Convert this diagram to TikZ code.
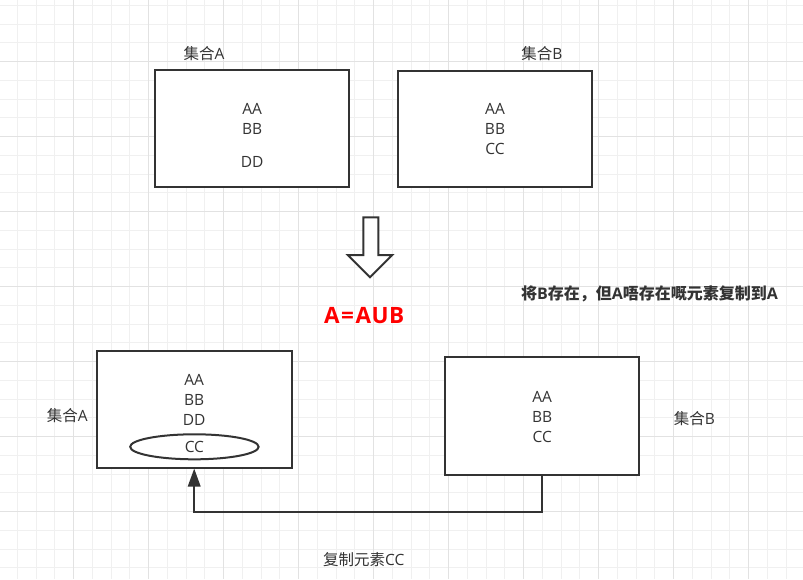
\documentclass[tikz,border=0pt]{standalone}
\usepackage{fontspec}
\setmainfont{Open Sans}
\newfontfamily\cjk{Noto Sans CJK SC}
\usetikzlibrary{arrows.meta,shapes.geometric}
\definecolor{ink}{HTML}{333333}
\definecolor{gridminor}{HTML}{F0F0F0}
\definecolor{gridmajor}{HTML}{E2E2E2}
\definecolor{redtxt}{HTML}{FF0000}
\tikzset{
  setbox/.style={draw=ink, line width=2pt, fill=white, minimum width=#1, inner sep=0pt},
  txt/.style={inner sep=0pt, text=ink, font=\fontsize{15.5pt}{19pt}\selectfont},
  boldtxt/.style={inner sep=0pt, text=ink, font=\fontsize{16pt}{19pt}\selectfont\bfseries},
  conn/.style={draw=ink, line width=2pt, -{Triangle[width=12.5pt,length=18pt]}},
  blockarrow/.style={draw=ink, line width=2pt, fill=white, line join=miter},
  gmin/.style={draw=gridminor, line width=1pt},
  gmaj/.style={draw=gridmajor, line width=1pt}
}
\begin{document}
\begin{tikzpicture}[x=1pt, y=-1pt]
\useasboundingbox (0,0) rectangle (803,579);
\fill[white] (0,0) rectangle (803,579);
% grid
\foreach \k in {1,...,42} \draw[gmin] ({-1.5+18.75*\k},0) -- ({-1.5+18.75*\k},579);
\foreach \k in {1,...,31} \draw[gmin] (0,{-13.3+18.75*\k}) -- (803,{-13.3+18.75*\k});
\foreach \k in {1,...,10} \draw[gmaj] ({-1.5+75*\k},0) -- ({-1.5+75*\k},579);
\foreach \k in {1,...,7} \draw[gmaj] (0,{-13.3+75*\k}) -- (803,{-13.3+75*\k});

% top sets
\node[setbox=194pt, minimum height=116.5pt] (tA) at (252.2,128.4) {};
\node[txt] (tAl) at (204,54) {{\cjk 集合}A};
\node[txt] (tAa) at (252.2,109) {AA};
\node[txt] (tAb) at (252.2,129) {BB};
\node[txt] (tAd) at (252.2,162) {DD};

\node[setbox=194pt, minimum height=116pt] (tB) at (495,128.7) {};
\node[txt] (tBl) at (542,54) {{\cjk 集合}B};
\node[txt] (tBa) at (495,109) {AA};
\node[txt] (tBb) at (495,129) {BB};
\node[txt] (tBc) at (495,149) {CC};

% block arrow
\draw[blockarrow] (363.3,217.3) -- (378.3,217.3) -- (378.3,255) -- (392.3,255) -- (370,277.3)
  -- (347.7,255) -- (363.3,255) -- cycle;

\node[inner sep=0pt, text=redtxt, font=\fontsize{22.5pt}{26pt}\selectfont\bfseries] (eq) at (364.2,315.5) {A\kern1.5pt=\kern1.5pt A\kern0.5pt U\kern0.5pt B};
\node[boldtxt] (note) at (649.5,294.3) {{\cjk 将}B{\cjk 存在，但}A{\cjk 唔存在嘅元素复制到}A};

% bottom sets
\node[setbox=195pt, minimum height=116.5pt] (bA) at (194.2,409.3) {};
\node[txt] (bAl) at (67.2,416) {{\cjk 集合}A};
\node[txt] (bAa) at (194.2,380) {AA};
\node[txt] (bAb) at (194.2,400) {BB};
\node[txt] (bAd) at (194.2,419.5) {DD};
\node[ellipse, draw=ink, line width=2pt, minimum width=128.5pt, minimum height=25pt, inner sep=0pt] (ell) at (194.4,446.8) {};
\node[txt] (bAc) at (194.4,447.3) {CC};

\node[setbox=194pt, minimum height=117.5pt] (bB) at (542.2,416.2) {};
\node[txt] (bBl) at (694.5,419) {{\cjk 集合}B};
\node[txt] (bBa) at (542.2,396.7) {AA};
\node[txt] (bBb) at (542.2,416.7) {BB};
\node[txt] (bBc) at (542.2,436.7) {CC};

\draw[conn] (bB.south) -- ++(0,36) -| (bA.south);
\node[txt] (copy) at (363.8,560) {{\cjk 复制元素}CC};
\end{tikzpicture}
\end{document}
